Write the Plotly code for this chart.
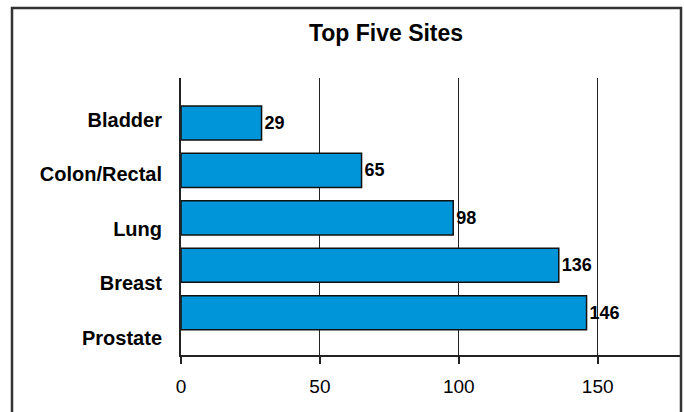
import plotly.graph_objects as go

title = "Top Five Sites"
sites = ["Bladder", "Colon/Rectal", "Lung", "Breast", "Prostate"]
counts = [29, 65, 98, 136, 146]
x_ticks = [0, 50, 100, 150]

FONT = "Liberation Sans, Arial"

fig = go.Figure()
fig.add_trace(go.Bar(
    x=counts, y=sites, orientation="h",
    marker=dict(color="#0094D8", line=dict(color="#111111", width=1.5)),
    width=0.72,
    text=[str(v) for v in counts], textposition="outside",
    textfont=dict(family=FONT, size=18, color="#000000", weight="bold"),
    cliponaxis=False, hoverinfo="skip",
))
# invisible companion trace that carries the category labels on the label axis
fig.add_trace(go.Scatter(
    x=[0] * len(sites), y=sites, yaxis="y2", mode="markers",
    marker=dict(opacity=0, size=1), hoverinfo="skip", showlegend=False,
))

fig.update_layout(
    width=684, height=412,
    margin=dict(l=181, r=3, t=78, b=57),
    paper_bgcolor="white", plot_bgcolor="white",
    showlegend=False,
    font=dict(family=FONT, color="#000000"),
    title=dict(text="<b>%s</b>" % title, x=386 / 684, xanchor="center",
               y=1 - 33 / 412, yanchor="middle",
               font=dict(size=23, family=FONT, color="#000000")),
    xaxis=dict(range=[0, 180], tickvals=x_ticks, showgrid=True, gridcolor="#222222",
               gridwidth=1, showline=True, linecolor="#222222", linewidth=2,
               ticks="outside", ticklen=7, tickcolor="#222222", tickwidth=1.5,
               ticklabelstandoff=6, zeroline=False,
               tickfont=dict(size=19, family=FONT, color="#000000")),
    yaxis=dict(type="category", categoryorder="array", categoryarray=sites,
               range=[4.892, -0.949], showticklabels=False, showgrid=False,
               showline=True, linecolor="#222222", linewidth=2, ticks=""),
    yaxis2=dict(type="category", categoryorder="array", categoryarray=sites,
                overlaying="y", side="left", anchor="x", range=[4.318, -0.772],
                showgrid=False, showline=False, zeroline=False, ticks="",
                ticklabelstandoff=18,
                tickfont=dict(size=20, family=FONT, color="#000000", weight="bold")),
)

# outer frame of the chart image
fig.add_shape(type="rect", xref="paper", yref="paper",
              x0=(12 - 181) / 500, x1=1.0, y0=-0.5, y1=(355 - 8) / 277,
              line=dict(color="#333333", width=2.5), layer="above")

fig.write_html("out.html", config={"displayModeBar": False},
               post_script="document.body.style.margin='0';")
